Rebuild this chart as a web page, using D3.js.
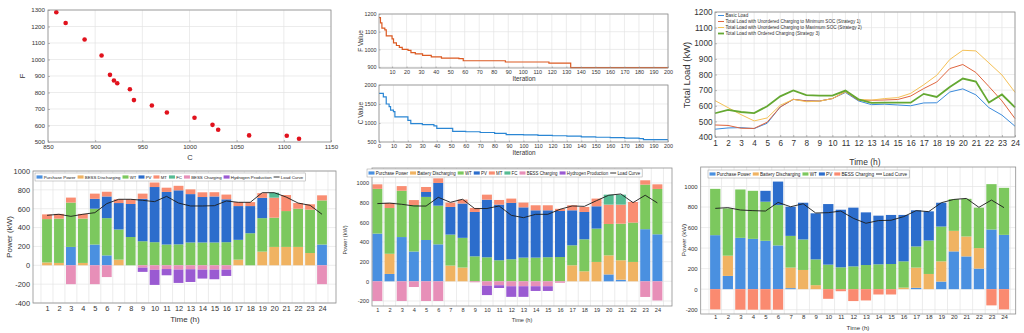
<!DOCTYPE html>
<html>
<head>
<meta charset="utf-8">
<script src="https://cdn.jsdelivr.net/npm/d3@7"></script>
<style>
body { margin: 0; background: #fff; }
svg { font-family: "Liberation Sans", Arial, sans-serif; }
</style>
</head>
<body>
<svg id="fig" width="1024" height="333"></svg>
<script>
// ---------- pareto front ----------
const paretoC = [858.8, 868.7, 888.8, 906.8, 915.7, 919.9, 923.4, 936.8, 941.1, 960.1, 976.0, 1005.3, 1024.4, 1030.4, 1063.2, 1103.1, 1116.1];
const paretoF = [1286, 1221, 1121, 1024, 907, 873, 856, 820, 754, 721, 679, 647, 604, 574, 540, 538, 520];

// ---------- convergence ----------
const fIter = [1, 2, 3, 5, 6, 10, 11, 13, 15, 17, 21, 23, 26, 31, 37, 44, 56, 59, 88, 118, 133, 200];
const fVal  = [1180, 1150, 1120, 1110, 1077, 1060, 1037, 1022, 1012, 1000, 995, 982, 975, 966, 958, 951, 948, 936, 929, 922, 897, 897];
const cIter = [0, 3, 5, 7, 8, 10, 11, 20, 22, 30, 38, 40, 51, 60, 70, 80, 88, 100, 110, 120, 130, 140, 150, 160, 170, 180, 183, 200];
const cVal  = [1780, 1690, 1500, 1430, 1340, 1300, 1160, 1070, 985, 955, 925, 860, 780, 770, 750, 725, 695, 685, 675, 665, 655, 635, 625, 615, 600, 590, 560, 560];

// ---------- total load curves ----------
const hours = [1, 2, 3, 4, 5, 6, 7, 8, 9, 10, 11, 12, 13, 14, 15, 16, 17, 18, 19, 20, 21, 22, 23, 24];
const basicLoad = [450, 458, 460, 454, 488, 592, 641, 631, 630, 646, 685, 631, 607, 610, 605, 600, 618, 619, 688, 708, 670, 588, 540, 469];
const loadS1 = [477, 474, 456, 455, 495, 592, 641, 631, 630, 646, 690, 635, 635, 637, 640, 662, 710, 752, 838, 864, 813, 723, 631, 518];
const loadS2 = [633, 588, 543, 503, 522, 603, 641, 626, 629, 646, 690, 641, 636, 646, 652, 679, 734, 795, 896, 955, 951, 874, 797, 686];
const loadS3 = [552, 574, 560, 553, 597, 660, 698, 668, 665, 665, 697, 641, 619, 620, 620, 620, 676, 656, 720, 774, 755, 620, 672, 590];
const loadNames = ["Basic Load",
  "Total Load with Unordered Charging to Minimum SOC (Strategy 1)",
  "Total Load with Unordered Charging to Maximum SOC (Strategy 2)",
  "Total Load with Ordered Charging (Strategy 3)"];

// ---------- dispatch A ----------
const aPurchase = [0, 0, 195, 0, 220, 105, 0, 0, 0, 0, 0, 0, 0, 0, 0, 0, 0, 0, 0, 0, 0, 0, 0, 220];
const aDischarge = [30, 25, 0, 25, 0, 0, 60, 0, 0, 0, 0, 0, 0, 0, 0, 0, 60, 0, 145, 195, 195, 195, 130, 0];
const aWT = [460, 470, 470, 470, 380, 395, 320, 300, 255, 245, 220, 222, 242, 242, 242, 245, 210, 340, 355, 310, 380, 405, 460, 468];
const aPV = [0, 0, 0, 0, 105, 230, 280, 350, 450, 585, 558, 573, 513, 482, 488, 455, 358, 288, 215, 0, 0, 0, 0, 0];
const aMT = [50, 50, 53, 50, 55, 50, 40, 50, 55, 48, 45, 48, 50, 50, 45, 50, 43, 42, 50, 212, 170, 60, 57, 54];
const aFC = [0, 0, 0, 0, 0, 0, 0, 0, 0, 0, 0, 0, 0, 0, 0, 0, 0, 0, 0, 53, 0, 0, 0, 0];
const aCharge = [0, 0, -200, 0, -200, -125, 0, 0, -25, -48, -40, -46, -42, -46, -46, -46, 0, 0, 0, 0, 0, 0, 0, -200];
const aHydrogen = [0, 0, 0, 0, 0, 0, 0, 0, -45, -160, -66, -141, -135, -95, -102, -67, 0, 0, 0, 0, 0, 0, 0, 0];
const aLoad = [530, 541, 519, 541, 558, 654, 700, 700, 689, 675, 731, 660, 629, 629, 632, 682, 668, 668, 770, 770, 724, 660, 636, 541];

// ---------- dispatch B ----------
const bPurchase = [485, 75, 450, 303, 420, 376, 0, 0, 0, 0, 0, 0, 0, 0, 0, 0, 0, 0, 0, 70, 16, 0, 530, 478];
const bDischarge = [0, 205, 0, 0, 0, 0, 160, 140, 0, 0, 0, 0, 0, 0, 0, 0, 163, 102, 197, 194, 198, 197, 0, 0];
const bWT = [455, 465, 471, 473, 438, 393, 315, 302, 254, 244, 214, 224, 241, 241, 245, 247, 203, 325, 339, 319, 372, 400, 453, 461];
const bPV = [0, 0, 0, 0, 50, 231, 281, 349, 451, 586, 566, 573, 511, 481, 477, 468, 356, 278, 227, 0, 0, 0, 0, 0];
const bMT = [46, 51, 47, 50, 51, 47, 44, 40, 41, 51, 47, 44, 48, 51, 51, 22, 51, 51, 78, 197, 194, 210, 44, 47];
const bFC = [0, 0, 0, 0, 0, 0, 0, 0, 0, 0, 0, 0, 0, 0, 0, 0, 0, 0, 0, 101, 101, 0, 0, 0];
const bCharge = [-200, 0, -200, -58, -200, -200, 0, 0, -10, -45, -40, -50, -50, -50, -50, -15, 0, 0, 0, 0, 0, 0, -159, -195];
const bHydrogen = [0, 0, 0, 0, 0, 0, 0, 0, 0, -95, -28, -108, -108, -48, -48, 0, 0, 0, 0, 0, 0, 0, 0, 0];
const bLoad = [790, 795, 783, 766, 765, 854, 803, 834, 739, 740, 766, 671, 647, 681, 681, 732, 766, 762, 820, 875, 888, 800, 875, 797];

// ---------- dispatch C ----------
const cPurchase = [526, 129, 500, 490, 471, 426, 10, 0, 0, 0, 0, 0, 0, 0, 0, 0, 13, 0, 74, 368, 319, 200, 581, 529];
const cDischarge = [0, 197, 0, 0, 0, 0, 200, 187, 39, 0, 0, 0, 0, 0, 0, 15, 197, 148, 197, 200, 194, 200, 0, 0];
const cWT = [451, 461, 471, 468, 381, 393, 309, 297, 251, 239, 213, 222, 235, 242, 245, 256, 206, 326, 339, 309, 367, 394, 442, 458];
const cPV = [0, 0, 0, 0, 106, 229, 284, 358, 449, 590, 561, 572, 513, 474, 478, 452, 352, 284, 232, 0, 0, 0, 0, 0];
const cCharge = [-197, 0, -200, -200, -200, -200, 0, 0, 0, -94, -20, -116, -110, -52, -52, 0, 0, 0, 0, 0, 0, 0, -158, -197];
const cLoad = [787, 794, 771, 765, 761, 845, 803, 832, 742, 745, 761, 690, 642, 668, 671, 706, 765, 755, 842, 874, 884, 797, 868, 794];

const colors = {
  purchase: "#4a90e0", discharge: "#f0b362", wt: "#7cc85e", pv: "#2c6dcc",
  mt: "#f98d72", fc: "#56bb93", charge: "#e78fb8", hydrogen: "#9a5ad2"
};

const svg = d3.select("#fig");
const GRID = "#e4e4e4", BOX = "#8f8f8f", TXT = "#333";

function drawBack(x, y, xGrid, yGrid) {
  const g = svg.append("g");
  const [x0, x1] = x.range(), [y1, y0] = y.range();
  g.append("rect").attr("x", x0).attr("y", y0).attr("width", x1 - x0).attr("height", y1 - y0).attr("fill", "#fff");
  g.selectAll(null).data(xGrid).enter().append("line")
    .attr("x1", d => x(d)).attr("x2", d => x(d)).attr("y1", y0).attr("y2", y1)
    .attr("stroke", GRID).attr("stroke-width", 0.7);
  g.selectAll(null).data(yGrid).enter().append("line")
    .attr("y1", d => y(d)).attr("y2", d => y(d)).attr("x1", x0).attr("x2", x1)
    .attr("stroke", GRID).attr("stroke-width", 0.7);
  return g;
}

function drawFrame(x, y, o) {
  const g = svg.append("g");
  const [x0, x1] = x.range(), [y1, y0] = y.range();
  g.append("rect").attr("x", x0).attr("y", y0).attr("width", x1 - x0).attr("height", y1 - y0)
    .attr("fill", "none").attr("stroke", BOX).attr("stroke-width", 0.8);
  const ax = g.append("g").attr("transform", `translate(0,${y1})`)
    .call(d3.axisBottom(x).tickValues(o.xTicks).tickSizeInner(o.tick || 0).tickSizeOuter(0)
      .tickPadding(o.xPad).tickFormat(d => String(d)));
  const ay = g.append("g").attr("transform", `translate(${x0},0)`)
    .call(d3.axisLeft(y).tickValues(o.yTicks).tickSizeInner(o.tick || 0).tickSizeOuter(0)
      .tickPadding(o.yPad).tickFormat(d => String(d)));
  [ax, ay].forEach(a => {
    a.select(".domain").remove();
    a.attr("font-family", null).attr("font-size", o.fs);
    a.selectAll("line").attr("stroke", BOX).attr("stroke-width", 0.6);
    a.selectAll("text").attr("fill", TXT);
  });
  return g;
}

function label(x, y, text, fs, rotate) {
  svg.append("text").attr("x", x).attr("y", y)
    .attr("transform", rotate ? `rotate(-90,${x},${y})` : null)
    .attr("text-anchor", "middle").attr("dy", "0.35em")
    .attr("font-size", fs).attr("fill", TXT).text(text);
}

// horizontal legend: font size picked so the row fills the given width
function legendRow(items, x, y, w, h) {
  const g = svg.append("g");
  const sw = 6, gapA = 1.2, gapB = 2;
  const probe = g.append("text").attr("font-size", 10);
  let sum = 0;
  items.forEach(it => { probe.text(it.label); sum += probe.node().getComputedTextLength(); });
  probe.remove();
  const fixed = 2 + items.length * (sw + gapA + gapB);
  const fs = 10 * (w - fixed) / sum;
  const box = g.append("rect").attr("x", x).attr("y", y).attr("width", w).attr("height", h)
    .attr("fill", "#fff").attr("stroke", "#9a9a9a").attr("stroke-width", 0.5);
  let cx = x + 1.5;
  const cy = y + h / 2;
  items.forEach(it => {
    if (it.line) {
      g.append("line").attr("x1", cx).attr("x2", cx + sw).attr("y1", cy).attr("y2", cy)
        .attr("stroke", it.color).attr("stroke-width", 0.9);
    } else {
      g.append("rect").attr("x", cx).attr("y", cy - 1.6).attr("width", sw).attr("height", 3.2).attr("fill", it.color);
    }
    const t = g.append("text").attr("x", cx + sw + gapA).attr("y", cy).attr("dy", "0.35em")
      .attr("font-size", fs).attr("fill", "#222").text(it.label);
    cx += sw + gapA + t.node().getComputedTextLength() + gapB;
  });
  box.attr("width", cx - x);
}

// ================= pareto scatter =================
{
  const x = d3.scaleLinear([850, 1150], [48, 331]);
  const y = d3.scaleLinear([500, 1300], [142, 10]);
  drawBack(x, y, d3.range(850, 1151, 50), d3.range(500, 1301, 100));
  svg.append("g").selectAll("circle").data(paretoC).enter().append("circle")
    .attr("cx", d => x(d)).attr("cy", (d, i) => y(paretoF[i])).attr("r", 2.3).attr("fill", "#e1121d");
  drawFrame(x, y, { xTicks: d3.range(850, 1151, 50), yTicks: d3.range(500, 1301, 100), fs: 6.2, xPad: 3, yPad: 3, tick: -2 });
  label(190, 157, "C", 7.5);
  label(22, 76, "F", 7.5, true);
}

// ================= convergence =================
{
  const x = d3.scaleLinear([1, 200], [379, 668]);
  const y = d3.scaleLinear([895, 1200], [68, 14]);
  drawBack(x, y, d3.range(10, 201, 10), [900, 1000, 1100, 1200]);
  const line = d3.line().curve(d3.curveStepAfter).x(d => x(d[0])).y(d => y(d[1]));
  svg.append("path").attr("d", line(fIter.map((d, i) => [d, fVal[i]])))
    .attr("fill", "none").attr("stroke", "#dc5a22").attr("stroke-width", 1.2);
  drawFrame(x, y, { xTicks: d3.range(10, 201, 10), yTicks: [900, 1000, 1100, 1200], fs: 5.4, xPad: 2.5, yPad: 2.5, tick: -1.5 });
  label(361, 41, "F Value", 6.4, true);
  label(524, 79, "Iteration", 6.4);

  const x2 = d3.scaleLinear([0, 200], [379, 668]);
  const y2 = d3.scaleLinear([500, 2000], [142, 85]);
  drawBack(x2, y2, d3.range(0, 201, 10), [500, 1000, 1500, 2000]);
  const line2 = d3.line().curve(d3.curveStepAfter).x(d => x2(d[0])).y(d => y2(d[1]));
  svg.append("path").attr("d", line2(cIter.map((d, i) => [d, cVal[i]])))
    .attr("fill", "none").attr("stroke", "#2a86d4").attr("stroke-width", 1.2);
  drawFrame(x2, y2, { xTicks: d3.range(0, 201, 10), yTicks: [500, 1000, 1500, 2000], fs: 5.4, xPad: 2.5, yPad: 2.5, tick: -1.5 });
  label(361, 113, "C Value", 6.4, true);
  label(524, 153, "Iteration", 6.4);
}

// ================= total load curves =================
{
  const x = d3.scaleLinear([1, 24], [715, 1015]);
  const y = d3.scaleLinear([400, 1200], [137, 12]);
  drawBack(x, y, hours, d3.range(400, 1201, 100));
  const series = [
    { v: basicLoad, c: "#3b8bdc", w: 1 },
    { v: loadS1, c: "#e0653e", w: 1 },
    { v: loadS2, c: "#f5c156", w: 1 },
    { v: loadS3, c: "#64a832", w: 1.8 }
  ];
  const line = d3.line().x((d, i) => x(hours[i])).y(d => y(d));
  series.forEach(s => {
    svg.append("path").attr("d", line(s.v)).attr("fill", "none").attr("stroke", s.c).attr("stroke-width", s.w);
  });
  drawFrame(x, y, { xTicks: hours, yTicks: d3.range(400, 1201, 100), fs: 8.2, xPad: 3, yPad: 2.5, tick: -2 });
  label(687, 75, "Total Load (kW)", 9.5, true);
  label(865, 162, "Time (h)", 8.5);
  // legend in the upper-left corner
  const lg = svg.append("g");
  series.forEach((s, i) => {
    const ly = 15.5 + i * 6;
    lg.append("line").attr("x1", 718).attr("x2", 724).attr("y1", ly).attr("y2", ly)
      .attr("stroke", s.c).attr("stroke-width", s.w);
    lg.append("text").attr("x", 725.5).attr("y", ly).attr("dy", "0.35em")
      .attr("font-size", 4.6).attr("fill", "#333").text(loadNames[i]);
  });
}

// ================= dispatch stacks =================
function dispatchPanel(o) {
  const x = d3.scaleLinear(o.xDom, o.xRange);
  const y = d3.scaleLinear(o.yDom, o.yRange);
  const halfGrid = d3.range(0.5, 25, 1).filter(d => d > o.xDom[0] && d < o.xDom[1]);
  drawBack(x, y, halfGrid, o.yTicks);

  const rows = hours.map((h, i) => {
    const r = { hour: h };
    o.series.forEach(s => { r[s.key] = s.values[i]; });
    return r;
  });
  const stack = d3.stack().keys(o.series.map(s => s.key)).offset(d3.stackOffsetDiverging);
  const layers = stack(rows);
  const bw = (x(2) - x(1)) * 0.82;
  const colorOf = {};
  o.series.forEach(s => { colorOf[s.key] = s.color; });

  svg.append("g").selectAll("g").data(layers).enter().append("g")
    .attr("fill", d => colorOf[d.key])
    .selectAll("rect").data(d => d.filter(p => p[1] !== p[0])).enter().append("rect")
    .attr("x", d => x(d.data.hour) - bw / 2)
    .attr("width", bw)
    .attr("y", d => y(Math.max(d[0], d[1])))
    .attr("height", d => Math.abs(y(d[0]) - y(d[1])));

  const line = d3.line().x((d, i) => x(hours[i])).y(d => y(d));
  svg.append("path").attr("d", line(o.load)).attr("fill", "none")
    .attr("stroke", "#1c1c1c").attr("stroke-width", 0.9);

  drawFrame(x, y, { xTicks: hours, yTicks: o.yTicks, fs: o.fs, xPad: o.xPad, yPad: 3, tick: 0 });
  label(o.yLab[0], o.yLab[1], "Power (kW)", o.labFs, true);
  label(o.xLab[0], o.xLab[1], "Time (h)", o.labFs);

  const items = o.series.map(s => ({ label: s.label, color: s.color }));
  items.push({ label: "Load Curve", color: "#1c1c1c", line: true });
  legendRow(items, o.legend[0], o.legend[1], o.legend[2], o.legend[3]);
}

dispatchPanel({
  xDom: [-0.17, 25.17], xRange: [33, 336],
  yDom: [-400, 1000], yRange: [303, 171],
  yTicks: d3.range(-400, 1001, 200),
  fs: 7.4, xPad: 2.5, labFs: 8,
  yLab: [9, 237], xLab: [185, 319.5],
  legend: [35, 173, 271, 8],
  load: aLoad,
  series: [
    { key: "purchase", label: "Purchase Power", values: aPurchase, color: colors.purchase },
    { key: "discharge", label: "BESS Discharging", values: aDischarge, color: colors.discharge },
    { key: "wt", label: "WT", values: aWT, color: colors.wt },
    { key: "pv", label: "PV", values: aPV, color: colors.pv },
    { key: "mt", label: "MT", values: aMT, color: colors.mt },
    { key: "fc", label: "FC", values: aFC, color: colors.fc },
    { key: "charge", label: "BESS Charging", values: aCharge, color: colors.charge },
    { key: "hydrogen", label: "Hydrogen Production", values: aHydrogen, color: colors.hydrogen }
  ]
});

dispatchPanel({
  xDom: [0.56, 25.2], xRange: [372, 672],
  yDom: [-251, 1152], yRange: [306, 168],
  yTicks: d3.range(-200, 1001, 200),
  fs: 5.6, xPad: 2, labFs: 5.6,
  yLab: [345, 240], xLab: [522, 320],
  legend: [367, 169, 276, 8],
  load: bLoad,
  series: [
    { key: "purchase", label: "Purchase Power", values: bPurchase, color: colors.purchase },
    { key: "discharge", label: "Battery Discharging", values: bDischarge, color: colors.discharge },
    { key: "wt", label: "WT", values: bWT, color: colors.wt },
    { key: "pv", label: "PV", values: bPV, color: colors.pv },
    { key: "mt", label: "MT", values: bMT, color: colors.mt },
    { key: "fc", label: "FC", values: bFC, color: colors.fc },
    { key: "charge", label: "BESS Charging", values: bCharge, color: colors.charge },
    { key: "hydrogen", label: "Hydrogen Production", values: bHydrogen, color: colors.hydrogen }
  ]
});

dispatchPanel({
  xDom: [-0.16, 24.93], xRange: [700.7, 1015.7],
  yDom: [-242, 1190], yRange: [314, 167],
  yTicks: d3.range(-200, 1001, 200),
  fs: 6, xPad: 1, labFs: 6.2,
  yLab: [684, 240], xLab: [858, 327.5],
  legend: [708, 170, 202, 8],
  load: cLoad,
  series: [
    { key: "purchase", label: "Purchase Power", values: cPurchase, color: colors.purchase },
    { key: "discharge", label: "Battery Discharging", values: cDischarge, color: colors.discharge },
    { key: "wt", label: "WT", values: cWT, color: colors.wt },
    { key: "pv", label: "PV", values: cPV, color: colors.pv },
    { key: "charge", label: "BESS Charging", values: cCharge, color: "#fa8a70" }
  ]
});
</script>
</body>
</html>
